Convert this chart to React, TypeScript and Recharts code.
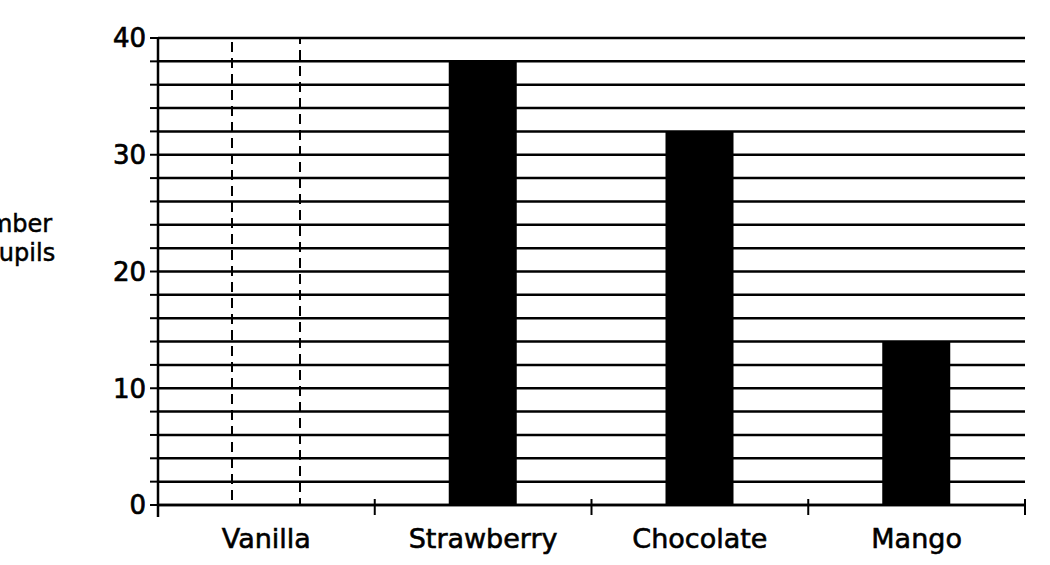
import { BarChart, Bar, XAxis, YAxis, CartesianGrid, Label } from 'recharts'

const flavours = ['Vanilla', 'Strawberry', 'Chocolate', 'Mango']
// number of pupils per flavour (Vanilla bar is left for the pupil to draw)
const pupils = [null, 38, 32, 14]
// dashed outline of the bar still to be drawn
const outline = [40, null, null, null]
const yTicks = [0, 2, 4, 6, 8, 10, 12, 14, 16, 18, 20, 22, 24, 26, 28, 30, 32, 34, 36, 38, 40]
const yLabelled = [0, 10, 20, 30, 40]

const W = 1050
const H = 565
const MARGIN = { top: 38, right: 25, left: 0, bottom: 0 }
const Y_W = 158
const X_H = 60
const BAND = (W - MARGIN.left - MARGIN.right - Y_W) / flavours.length
const FONT = '"DejaVu Sans", Arial, sans-serif'

const data = flavours.map((flavour, i) => ({
  flavour,
  pupils: pupils[i],
  outline: outline[i],
}))

function XTick(props: any) {
  const { x, y, payload, index } = props
  const half = BAND / 2
  return (
    <g>
      {index === 0 && (
        <line x1={x - half} x2={x - half} y1={y} y2={y + 12} stroke="#000" strokeWidth={2.5} />
      )}
      <line x1={x + half} x2={x + half} y1={y - 6} y2={y + 10} stroke="#000" strokeWidth={2} />
      <text
        x={x}
        y={y + 43}
        textAnchor="middle"
        fontSize={27}
        fontFamily={FONT}
        fill="#000"
        stroke="#000"
        strokeWidth={0.6}
      >
        {payload.value}
      </text>
    </g>
  )
}

function YTick(props: any) {
  const { x, y, payload } = props
  if (!yLabelled.includes(payload.value)) return <g />
  return (
    <text
      x={x}
      y={y}
      dy="0.36em"
      textAnchor="end"
      fontSize={26}
      fontFamily={FONT}
      fill="#000"
      stroke="#000"
      strokeWidth={0.7}
    >
      {payload.value}
    </text>
  )
}

function YTitle() {
  return (
    <text
      textAnchor="middle"
      fontSize={24}
      fontFamily={FONT}
      fill="#000"
      stroke="#000"
      strokeWidth={0.5}
    >
      <tspan x={4} y={232}>Number</tspan>
      <tspan x={4} y={261}>of pupils</tspan>
    </text>
  )
}

export default function App() {
  return (
    <div style={{ position: 'absolute', left: 0, top: 0, background: '#fff' }}>
      <BarChart width={W} height={H} data={data} margin={MARGIN} barSize={68} barGap={-68}>
        <CartesianGrid vertical={false} stroke="#000" strokeWidth={2.5} />
        <XAxis
          dataKey="flavour"
          interval={0}
          height={X_H}
          tickLine={false}
          tickSize={0}
          tickMargin={0}
          axisLine={{ stroke: '#000', strokeWidth: 2.5 }}
          tick={XTick}
        />
        <YAxis
          width={Y_W}
          domain={[0, 40]}
          ticks={yTicks}
          interval={0}
          tickSize={8}
          tickMargin={4}
          tickLine={{ stroke: '#000', strokeWidth: 2 }}
          axisLine={{ stroke: '#000', strokeWidth: 2.5 }}
          tick={YTick}
        >
          <Label content={YTitle} />
        </YAxis>
        <Bar
          dataKey="outline"
          fill="none"
          stroke="#000"
          strokeWidth={2}
          strokeDasharray="10 6"
          isAnimationActive={false}
        />
        <Bar dataKey="pupils" fill="#000" isAnimationActive={false} />
      </BarChart>
    </div>
  )
}
